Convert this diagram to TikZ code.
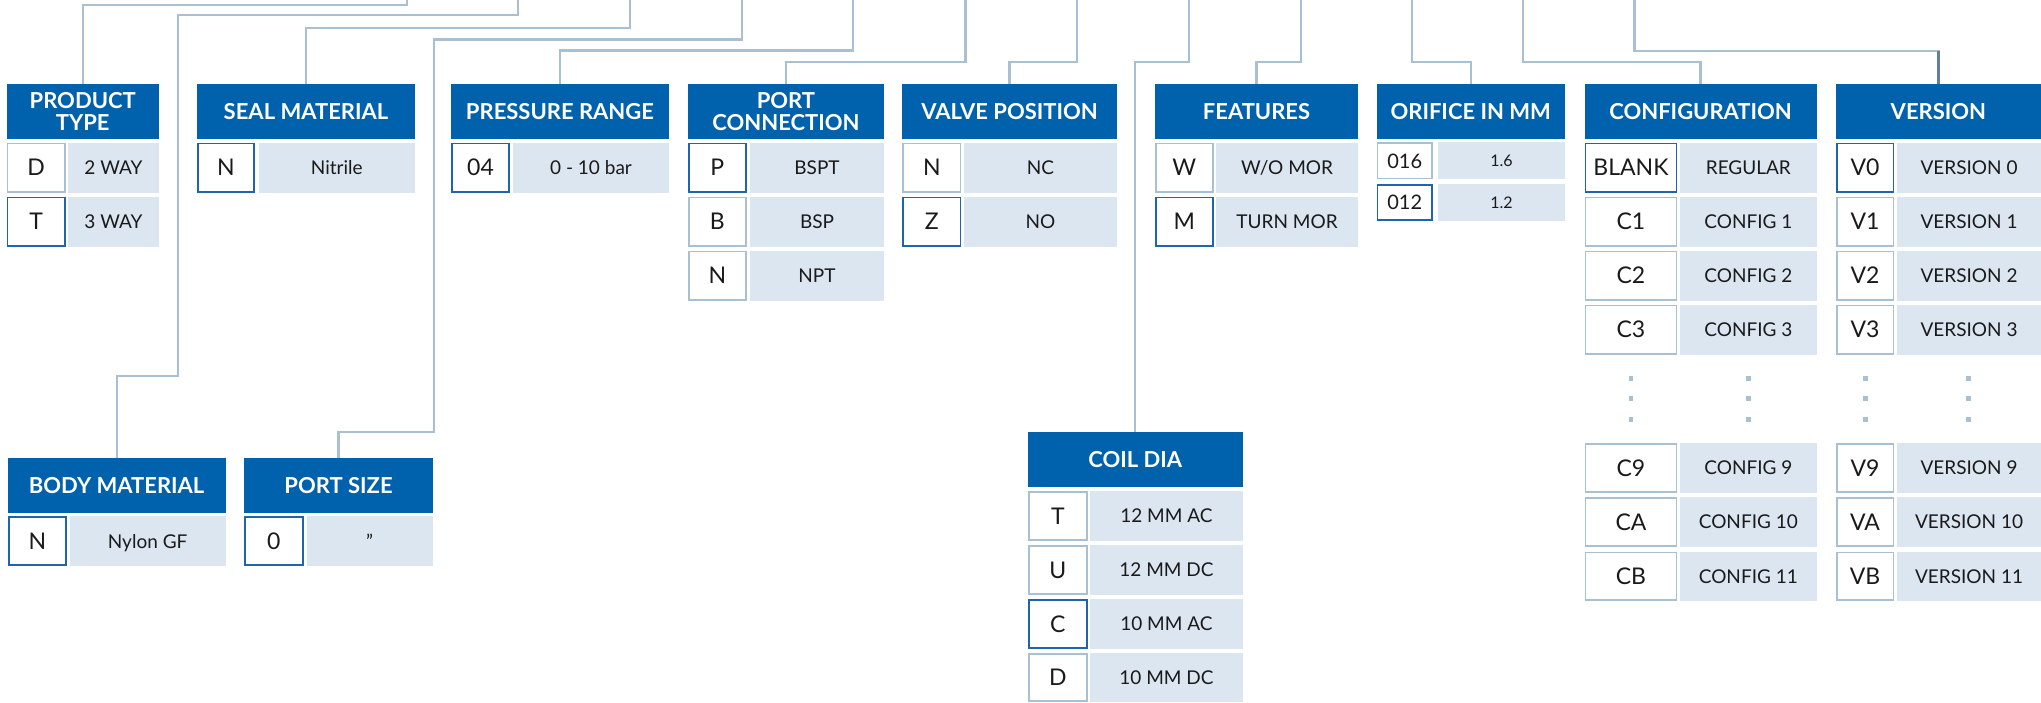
\documentclass[tikz,border=0pt]{standalone}
\usepackage{fontspec}
\setmainfont{Lato}
\usetikzlibrary{backgrounds}
\definecolor{hblue}{HTML}{0061AD}
\definecolor{dfill}{HTML}{DBE6F0}
\definecolor{gborder}{HTML}{A9C0D2}
\definecolor{bborder}{HTML}{1F64AC}
\definecolor{conncol}{HTML}{A9C0D3}
\definecolor{conndark}{HTML}{5F8099}
\definecolor{ink}{HTML}{1A1A1A}
\tikzset{
  hdrbox/.style={fill=hblue, text=white, inner sep=0pt, align=center, font=\fontsize{22}{22.5}\selectfont\bfseries},
  descbox/.style={fill=dfill, text=ink, inner sep=0pt, text depth=0pt, font=\fontsize{19}{21}\selectfont},
  codebase/.style={fill=white, text=ink, inner sep=0pt, text depth=0pt, line width=1.8pt, font=\fontsize{23}{25}\selectfont},
  codeg/.style={codebase, draw=gborder},
  codeb/.style={codebase, draw=bborder},
  conn/.style={draw=conncol, line width=2.2pt, line cap=rect},
  conndk/.style={draw=conndark, line width=2.2pt},
}
\newcommand\mkhdr[6]{%
  \node[hdrbox, minimum width={(#4)-(#2)}, minimum height={(#5)-(#3)}] (#1) at ({((#2)+(#4))/2},{((#3)+(#5))/2}) {#6};}
\newcommand\setcols[4]{\def\gxa{#1}\def\gxb{#2}\def\gxc{#3}\def\gxd{#4}}
\newcommand\mkrow[6]{%
  \node[#2, minimum width={\gxb-\gxa-1.8}, minimum height={(#4)-(#3)-1.8}] (#1c) at ({(\gxa+\gxb)/2},{((#3)+(#4))/2}) {#5};
  \node[descbox, minimum width={\gxd-\gxc}, minimum height={(#4)-(#3)}] (#1d) at ({(\gxc+\gxd)/2},{((#3)+(#4))/2}) {#6};}
\begin{document}
\begin{tikzpicture}[x=1pt,y=-1pt]
\useasboundingbox (0,0) rectangle (2041,702);
% headers
\mkhdr{hPT}{6.5}{84}{159}{139}{PRODUCT\\TYPE}
\mkhdr{hSM}{197}{84}{415}{139}{SEAL MATERIAL}
\mkhdr{hPR}{451}{84}{669}{139}{PRESSURE RANGE}
\mkhdr{hPC}{688}{84}{884}{139}{PORT\\CONNECTION}
\mkhdr{hVP}{902.4}{84}{1116.7}{139}{VALVE POSITION}
\mkhdr{hFE}{1155}{84}{1358}{139}{FEATURES}
\mkhdr{hOR}{1376.5}{84}{1565}{139}{ORIFICE IN MM}
\mkhdr{hCF}{1584.5}{84}{1816.6}{139}{CONFIGURATION}
\mkhdr{hVE}{1835.8}{84}{2041}{139}{VERSION}
\mkhdr{hBM}{7.8}{458}{225.5}{512.7}{BODY MATERIAL}
\mkhdr{hPS}{244.2}{458}{432.8}{512.7}{PORT SIZE}
\mkhdr{hCD}{1028}{432}{1242.6}{486.7}{COIL DIA}
% product type
\setcols{6.5}{65.6}{68}{159}
\mkrow{pt1}{codeg}{142.5}{192.5}{D}{2 WAY}
\mkrow{pt2}{codeb}{196.5}{246.5}{T}{3 WAY}
% seal
\setcols{197}{255}{258.6}{415}
\mkrow{sm1}{codeb}{142.5}{192.5}{N}{Nitrile}
% pressure
\setcols{451}{510}{513}{669}
\mkrow{pr1}{codeb}{142.5}{192.5}{04}{0 - 10 bar}
% port connection
\setcols{688}{746.6}{750}{884}
\mkrow{pc1}{codeb}{142.5}{192.5}{P}{BSPT}
\mkrow{pc2}{codeg}{196.5}{246.5}{B}{BSP}
\mkrow{pc3}{codeg}{250.5}{300.5}{N}{NPT}
% valve position
\setcols{902.4}{961.3}{964}{1116.7}
\mkrow{vp1}{codeg}{142.5}{192.5}{N}{NC}
\mkrow{vp2}{codeb}{196.5}{246.5}{Z}{NO}
% features
\setcols{1155}{1213.6}{1216}{1358}
\mkrow{fe1}{codeg}{142.5}{192.5}{W}{W/O MOR}
\mkrow{fe2}{codeb}{196.5}{246.5}{M}{TURN MOR}
% orifice
\begin{scope}[descbox/.append style={font=\fontsize{16}{18}\selectfont}, codebase/.append style={font=\fontsize{20}{22}\selectfont}]
\setcols{1376.5}{1433}{1438}{1565}
\mkrow{or1}{codeg}{142.3}{179.3}{016}{1.6}
\mkrow{or2}{codeb}{184}{221}{012}{1.2}
\end{scope}
% configuration
\setcols{1584.5}{1677.4}{1680}{1816.6}
\mkrow{cf0}{codeb}{142.5}{192.5}{BLANK}{REGULAR}
\mkrow{cf1}{codeg}{196.5}{246.5}{C1}{CONFIG 1}
\mkrow{cf2}{codeg}{250.5}{300.5}{C2}{CONFIG 2}
\mkrow{cf3}{codeg}{304.5}{354.5}{C3}{CONFIG 3}
\mkrow{cf9}{codeg}{443.3}{492.8}{C9}{CONFIG 9}
\mkrow{cfa}{codeg}{497.3}{546.8}{CA}{CONFIG 10}
\mkrow{cfb}{codeg}{551.5}{601}{CB}{CONFIG 11}
% version
\setcols{1835.8}{1894.3}{1897}{2041}
\mkrow{ve0}{codeb}{142.5}{192.5}{V0}{VERSION 0}
\mkrow{ve1}{codeg}{196.5}{246.5}{V1}{VERSION 1}
\mkrow{ve2}{codeg}{250.5}{300.5}{V2}{VERSION 2}
\mkrow{ve3}{codeg}{304.5}{354.5}{V3}{VERSION 3}
\mkrow{ve9}{codeg}{443.3}{492.8}{V9}{VERSION 9}
\mkrow{vea}{codeg}{497.3}{546.8}{VA}{VERSION 10}
\mkrow{veb}{codeg}{551.5}{601}{VB}{VERSION 11}
% body material
\setcols{7.8}{66.8}{69.8}{225.5}
\mkrow{bm1}{codeb}{516}{566}{N}{Nylon GF}
% port size
\setcols{244.2}{303.6}{306.6}{432.8}
\mkrow{ps1}{codeb}{516}{566}{0}{\vphantom{0}”}
% coil dia
\setcols{1028}{1087.6}{1090.3}{1242.6}
\mkrow{cd1}{codeg}{491}{540.5}{T}{12 MM AC}
\mkrow{cd2}{codeg}{545}{594.5}{U}{12 MM DC}
\mkrow{cd3}{codeb}{599}{648.5}{C}{10 MM AC}
\mkrow{cd4}{codeg}{653}{702}{D}{10 MM DC}
% dots
\foreach \dx in {1631,1748.3,1865.3,1968.3}{\foreach \dy in {378.3,398.3,419.3}{\fill[conncol] (\dx-2.4,\dy-2.4) rectangle ++(4.8,4.8);}}
% connectors
\coordinate (tPT) at (406.8,0);
\coordinate (tBM) at (518.2,0);
\coordinate (tSM) at (629.7,0);
\coordinate (tPS) at (741.7,0);
\coordinate (tPR) at (853.3,0);
\coordinate (tPC) at (965.4,0);
\coordinate (tVP) at (1077,0);
\coordinate (tCD) at (1189,0);
\coordinate (tFE) at (1300.6,0);
\coordinate (tOR) at (1412,0);
\coordinate (tCF) at (1523,0);
\coordinate (tVE) at (1634.5,0);
\coordinate (bBM1) at (177.8,15);
\coordinate (bBM2) at (116.65,375.7);
\coordinate (bPS1) at (433.7,39.5);
\coordinate (bPS2) at (338.5,432);
\coordinate (bVE) at (1938.4,50.7);
\begin{pgfonlayer}{background}
\draw[conn] (tPT) -- ++(0,5.3) -| (hPT.north);
\draw[conn] (tBM) |- (bBM1) |- (bBM2) -- (hBM.north);
\draw[conn] (tSM) -- ++(0,28) -| (hSM.north);
\draw[conn] (tPS) |- (bPS1) |- (bPS2) -- (hPS.north);
\draw[conn] (tPR) -- ++(0,50.5) -| (hPR.north);
\draw[conn] (tPC) -- ++(0,62) -| (hPC.north);
\draw[conn] (tVP) -- ++(0,62) -| (hVP.north);
\draw[conn] (tCD) -- ++(0,62) -| (hCD.north);
\draw[conn] (tFE) -- ++(0,62) -| (hFE.north);
\draw[conn] (tOR) -- ++(0,62) -| (hOR.north);
\draw[conn] (tCF) -- ++(0,62) -| (hCF.north);
\draw[conn] (tVE) |- (bVE);
\draw[conndk] (bVE) -- (hVE.north);
\end{pgfonlayer}
\end{tikzpicture}
\end{document}
